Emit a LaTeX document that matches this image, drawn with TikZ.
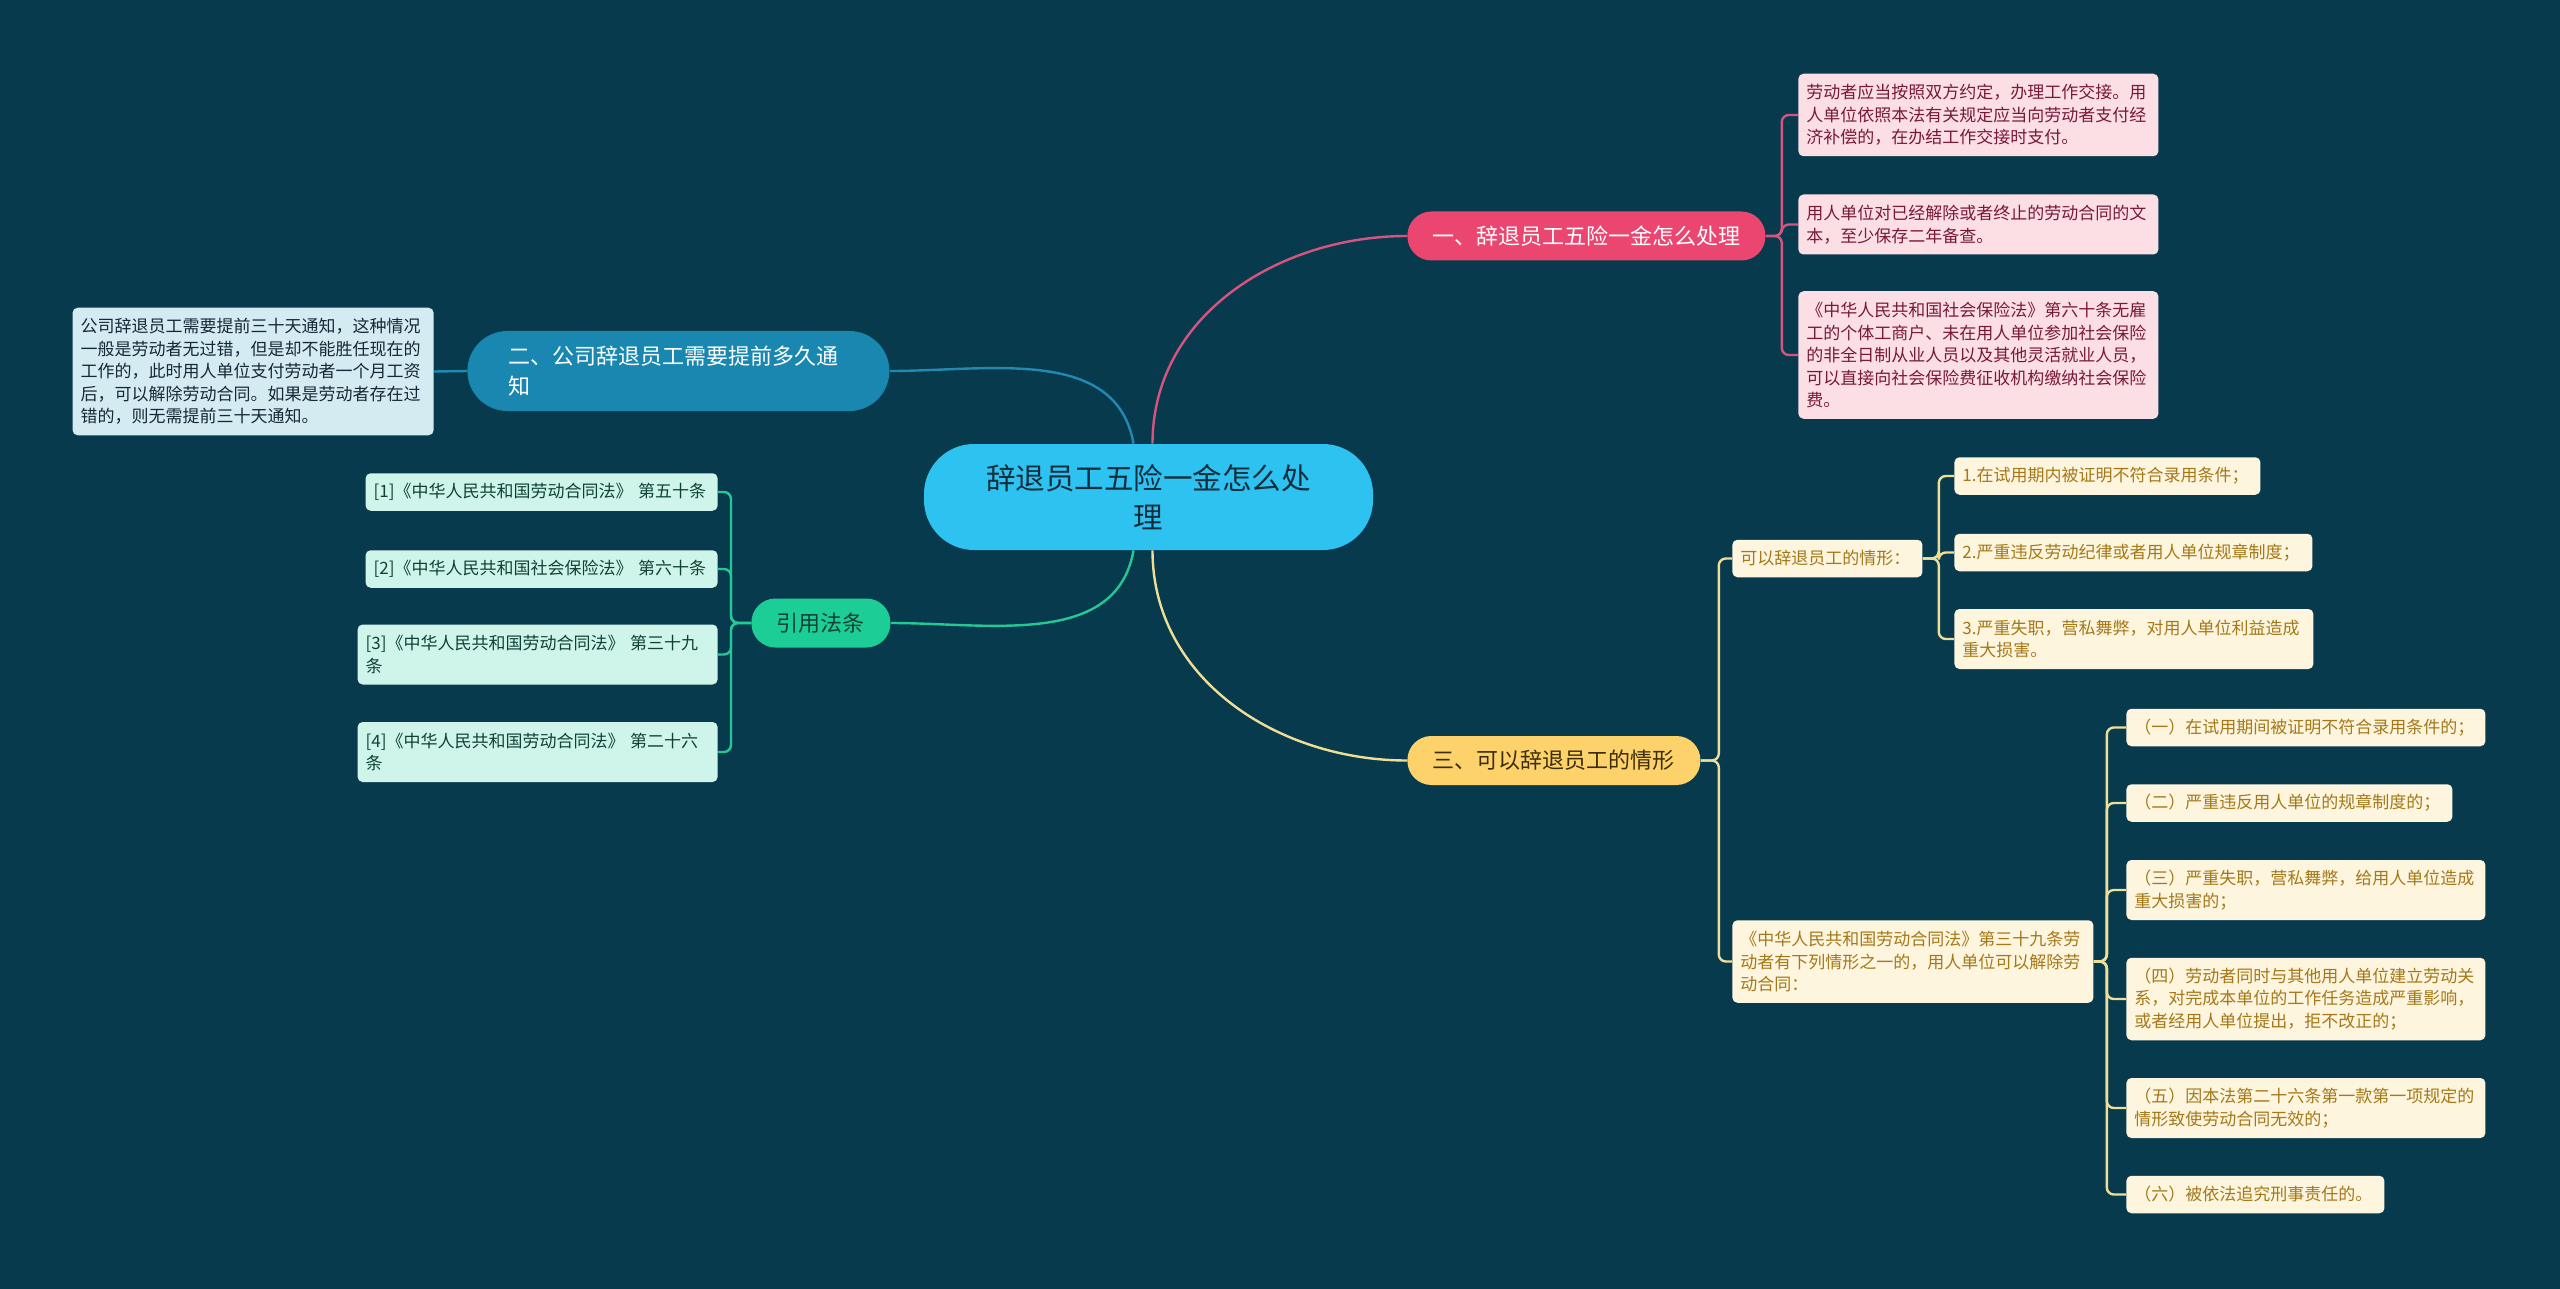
\documentclass[tikz,border=0pt]{standalone}
\usepackage{fontspec}
\setmainfont{Noto Sans CJK SC}
\usetikzlibrary{positioning}
\definecolor{bgc}{RGB}{8,58,78}
\definecolor{rootc}{RGB}{46,194,240}
\definecolor{roottxt}{RGB}{18,45,60}
\definecolor{pkc}{RGB}{234,70,112}
\definecolor{pkl}{RGB}{214,84,125}
\definecolor{pkfill}{RGB}{252,222,229}
\definecolor{pktxt}{RGB}{120,25,55}
\definecolor{blc}{RGB}{25,135,176}
\definecolor{bll}{RGB}{34,138,178}
\definecolor{blfill}{RGB}{213,235,242}
\definecolor{bltxt}{RGB}{20,40,55}
\definecolor{gnc}{RGB}{28,206,150}
\definecolor{gnl}{RGB}{35,200,150}
\definecolor{gnfill}{RGB}{207,245,234}
\definecolor{gntxt}{RGB}{15,65,55}
\definecolor{ywc}{RGB}{253,210,106}
\definecolor{ywl}{RGB}{238,222,150}
\definecolor{ywfill}{RGB}{253,245,222}
\definecolor{ywtxt}{RGB}{165,120,25}
\definecolor{ywdark}{RGB}{60,45,10}

\begin{document}
\begin{tikzpicture}[x=0.5pt,y=-0.5pt,every node/.style={inner sep=0pt},
  rootn/.style={fill=rootc,text=roottxt,rounded corners=25pt,minimum width=224.5pt,minimum height=53pt,align=center,font=\fontsize{14.75pt}{19.5pt}\selectfont},
  branch/.style={font=\fontsize{11pt}{15pt}\selectfont,rounded corners=12pt,minimum height=24.5pt,anchor=west},
  leaf/.style={rounded corners=2.5pt,inner xsep=4pt,inner ysep=0pt,align=left,minimum height=18.75pt,font=\fontsize{8.5pt}{11.25pt}\selectfont},
  h2/.style={minimum height=30pt},h3/.style={minimum height=41.25pt},h5/.style={minimum height=63.75pt},
  pkleaf/.style={leaf,fill=pkfill,text=pktxt,text width=172pt,anchor=west},
  blleaf/.style={leaf,fill=blfill,text=bltxt,text width=172.5pt,anchor=east},
  gnleaf/.style={leaf,fill=gnfill,text=gntxt,anchor=east},
  ywleaf/.style={leaf,fill=ywfill,text=ywtxt,anchor=west},
  conn/.style={line width=1.2pt,rounded corners=3.5pt}]
\fill[bgc] (0,0) rectangle (2560,1289);

\node[rootn] (root) at (1148.5,497) {辞退员工五险一金怎么处\\理};

\node[branch,fill=pkc,text=white,minimum width=179pt] (n1) at (1407,236) {一、辞退员工五险一金怎么处理};
\node[branch,fill=blc,text=white,rounded corners=20pt,minimum height=40pt,text width=170pt,inner xsep=20.5pt,align=left] (n2) at (467,371) {二、公司辞退员工需要提前多久通\\知};
\node[branch,fill=gnc,text=gntxt,minimum width=69.5pt] (n4) at (751,623) {引用法条};
\node[branch,fill=ywc,text=ywdark,minimum width=146.5pt] (n3) at (1407,760.5) {三、可以辞退员工的情形};

\node[pkleaf,h3] (p1) at (1798,115) {劳动者应当按照双方约定，办理工作交接。用\\人单位依照本法有关规定应当向劳动者支付经\\济补偿的，在办结工作交接时支付。};
\node[pkleaf,h2] (p2) at (1798,224.5) {用人单位对已经解除或者终止的劳动合同的文\\本，至少保存二年备查。};
\node[pkleaf,h5] (p3) at (1798,355) {《中华人民共和国社会保险法》第六十条无雇\\工的个体工商户、未在用人单位参加社会保险\\的非全日制从业人员以及其他灵活就业人员，\\可以直接向社会保险费征收机构缴纳社会保险\\费。};

\node[blleaf,h5] (b1) at (434,371.5) {公司辞退员工需要提前三十天通知，这种情况\\一般是劳动者无过错，但是却不能胜任现在的\\工作的，此时用人单位支付劳动者一个月工资\\后，可以解除劳动合同。如果是劳动者存在过\\错的，则无需提前三十天通知。};

\node[gnleaf,text width=168pt] (g1) at (718,492) {[1]《中华人民共和国劳动合同法》 第五十条};
\node[gnleaf,text width=168pt] (g2) at (718,569) {[2]《中华人民共和国社会保险法》 第六十条};
\node[gnleaf,h2,text width=172pt] (g3) at (718,654.5) {[3]《中华人民共和国劳动合同法》 第三十九\\条};
\node[gnleaf,h2,text width=172pt] (g4) at (718,752) {[4]《中华人民共和国劳动合同法》 第二十六\\条};

\node[ywleaf,text width=87pt] (s1) at (1732,558.5) {可以辞退员工的情形：};
\node[ywleaf,h3,text width=172.5pt] (s2) at (1732,961.5) {《中华人民共和国劳动合同法》第三十九条劳\\动者有下列情形之一的，用人单位可以解除劳\\动合同：};

\node[ywleaf,text width=145pt] (c1) at (1954,476) {1.在试用期内被证明不符合录用条件；};
\node[ywleaf,text width=171pt] (c2) at (1954,552.5) {2.严重违反劳动纪律或者用人单位规章制度；};
\node[ywleaf,h2,text width=171.5pt] (c3) at (1954,639) {3.严重失职，营私舞弊，对用人单位利益造成\\重大损害。};

\node[ywleaf,text width=171.5pt] (d1) at (2126,727.5) {（一）在试用期间被证明不符合录用条件的；};
\node[ywleaf,text width=155pt] (d2) at (2126,803) {（二）严重违反用人单位的规章制度的；};
\node[ywleaf,h2,text width=171.5pt] (d3) at (2126,890) {（三）严重失职，营私舞弊，给用人单位造成\\重大损害的；};
\node[ywleaf,h3,text width=171.5pt] (d4) at (2126,999) {（四）劳动者同时与其他用人单位建立劳动关\\系，对完成本单位的工作任务造成严重影响，\\或者经用人单位提出，拒不改正的；};
\node[ywleaf,h2,text width=171.5pt] (d5) at (2126,1108) {（五）因本法第二十六条第一款第一项规定的\\情形致使劳动合同无效的；};
\node[ywleaf,text width=121pt] (d6) at (2126,1194.5) {（六）被依法追究刑事责任的。};

\draw[conn,pkl] ([xshift=2pt]root.north) to[out=90,in=180] (n1.west);
\draw[conn,bll] ([xshift=-7.5pt]root.north) to[out=100,in=0] (n2.east);
\draw[conn,gnl] ([xshift=-7.5pt]root.south) to[out=-100,in=0] (n4.east);
\draw[conn,ywl] ([xshift=2pt]root.south) to[out=-90,in=180] (n3.west);

\foreach \c in {p1,p2,p3} \draw[conn,pkl] (n1.east) -- ++(16,0) |- (\c.west);
\draw[conn,bll] (n2.west) -- (b1.east);
\foreach \c in {g1,g2,g3,g4} \draw[conn,gnl] (n4.west) -- ++(-20,0) |- (\c.east);
\foreach \c in {s1,s2} \draw[conn,ywl] (n3.east) -- ++(18,0) |- (\c.west);
\foreach \c in {c1,c2,c3} \draw[conn,ywl] (s1.east) -- ++(16,0) |- (\c.west);
\foreach \i in {1,...,6} \draw[conn,ywl] (s2.east) -- ++(13,0) |- (d\i.west);
\end{tikzpicture}
\end{document}
